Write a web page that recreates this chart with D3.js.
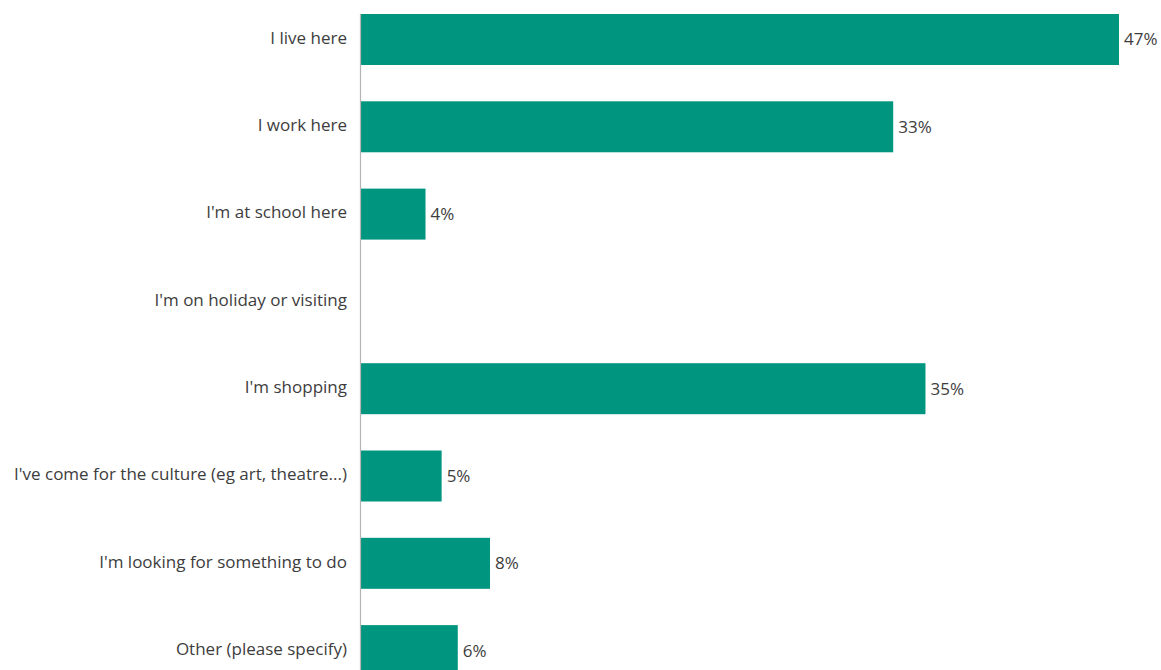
<!DOCTYPE html>
<html>
<head>
<meta charset="utf-8">
<script src="https://cdn.jsdelivr.net/npm/d3@7"></script>
<style>
  html, body { margin: 0; padding: 0; background: #fff; }
  svg { display: block; }
  text { font-family: "Open Sans", Lato, sans-serif; fill: #3d3d3d; }
</style>
</head>
<body>
<svg id="chart" width="1161" height="670"></svg>
<script>
// Reasons for being in the area (% of respondents)
const categories = [
  "I live here",
  "I work here",
  "I'm at school here",
  "I'm on holiday or visiting",
  "I'm shopping",
  "I've come for the culture (eg art, theatre...)",
  "I'm looking for something to do",
  "Other (please specify)"
];
const values = [47, 33, 4, null, 35, 5, 8, 6];
const valueLabels = ["47%", "33%", "4%", "", "35%", "5%", "8%", "6%"];

const rows = categories.map((c, i) => ({ category: c, value: values[i], label: valueLabels[i] }));

const svg = d3.select("#chart");
const marginLeft = 361, marginTop = 14;
const fontFamily = "'Open Sans', Lato, sans-serif";
const fontSize = 17;

const x = d3.scaleLinear().domain([0, 47]).range([marginLeft, 1119]);
const y = d3.scaleBand()
  .domain(categories)
  .range([marginTop, 676.1])
  .paddingInner(0.416)
  .paddingOuter(0);

// bars
svg.append("g").selectAll("rect")
  .data(rows.filter(d => d.value != null))
  .join("rect")
  .attr("x", x(0))
  .attr("y", d => y(d.category))
  .attr("width", d => x(d.value) - x(0))
  .attr("height", y.bandwidth())
  .attr("fill", "#00957e");

// category axis
const yAxis = d3.axisLeft(y).tickSize(0).tickPadding(14);
const gy = svg.append("g")
  .attr("transform", `translate(${marginLeft},0)`)
  .call(yAxis);
gy.select(".domain").remove();
gy.selectAll("text")
  .attr("font-size", fontSize)
  .attr("dy", "0.25em")
  .style("font-family", fontFamily)
  .attr("fill", "#3d3d3d");

svg.append("line")
  .attr("x1", marginLeft - 0.5).attr("x2", marginLeft - 0.5)
  .attr("y1", marginTop).attr("y2", 670)
  .attr("stroke", "#b4b4b4")
  .attr("stroke-width", 1.2);

// value labels
svg.append("g").selectAll("text")
  .data(rows.filter(d => d.value != null))
  .join("text")
  .attr("x", d => x(d.value) + 5)
  .attr("y", d => y(d.category) + y.bandwidth() / 2)
  .attr("dy", "0.35em")
  .attr("font-size", fontSize)
  .style("font-family", fontFamily)
  .text(d => d.label);
</script>
</body>
</html>
